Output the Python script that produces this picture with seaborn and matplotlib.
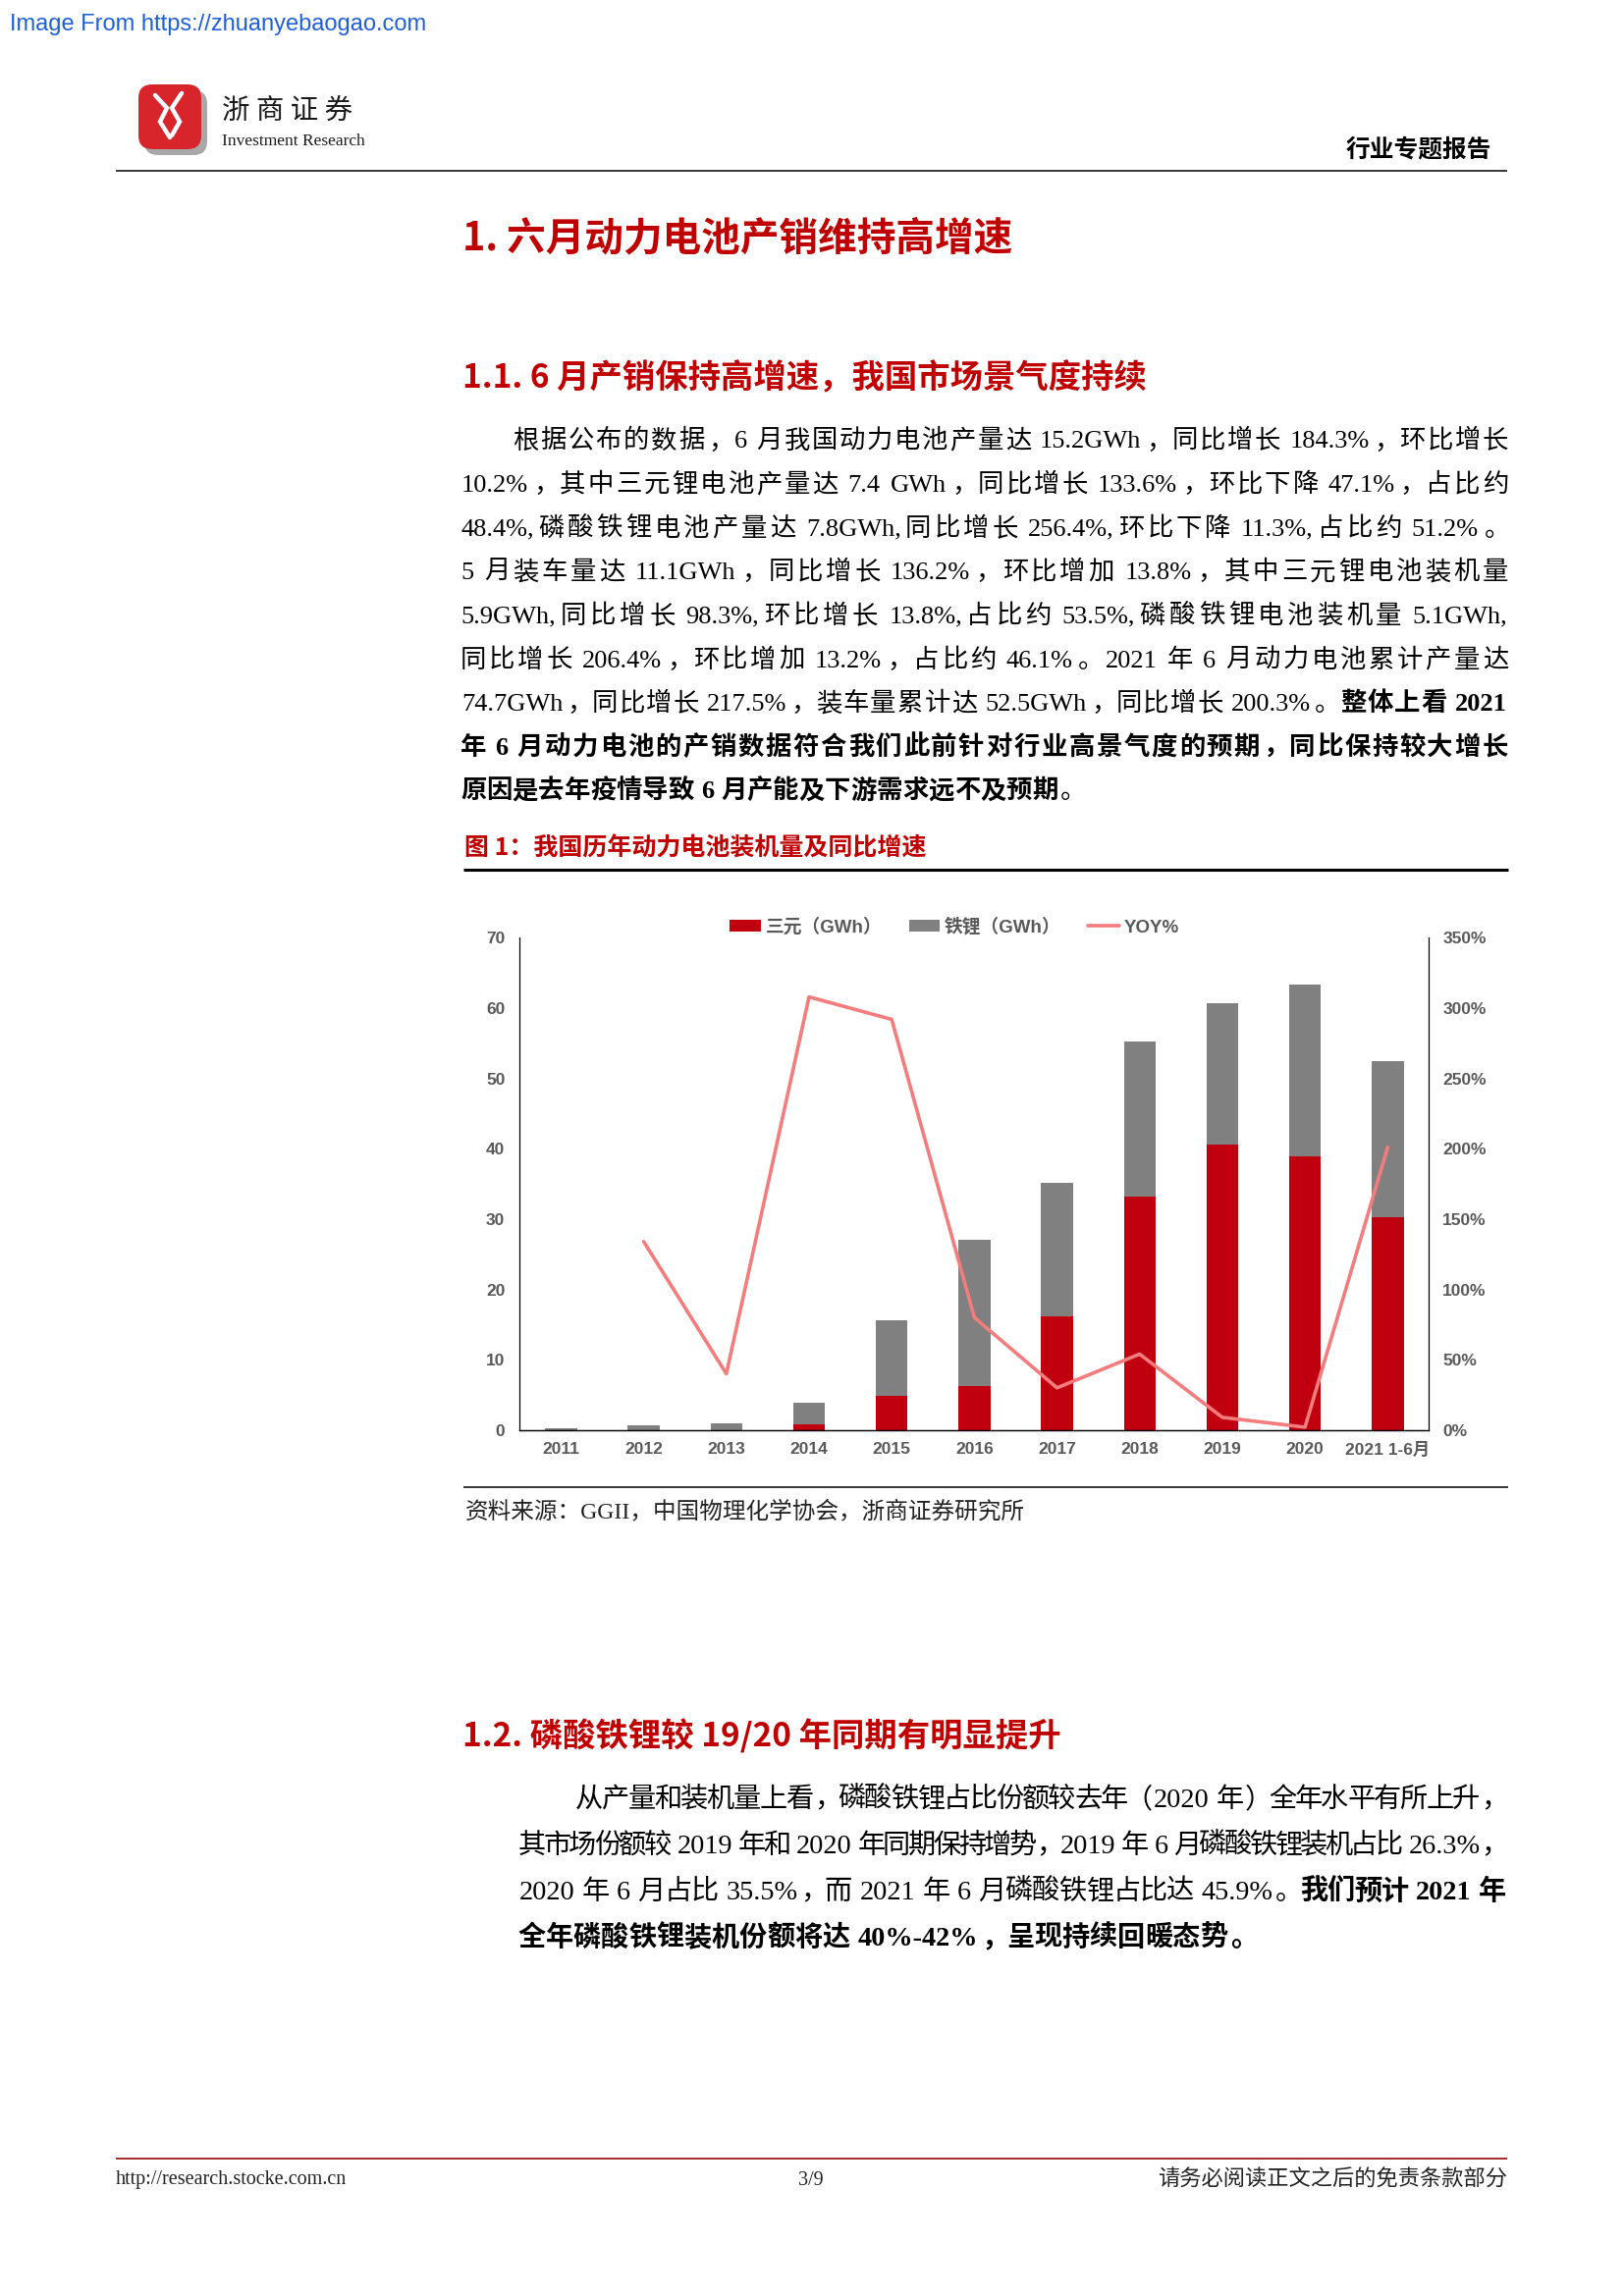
import numpy as np
import pandas as pd
import matplotlib
matplotlib.use("Agg")
import matplotlib.pyplot as plt
import seaborn as sns
from matplotlib.font_manager import FontProperties
from matplotlib.patches import Patch, FancyBboxPatch
from matplotlib.lines import Line2D
from matplotlib.transforms import Affine2D

# ---------------- data ----------------
years = ['2011', '2012', '2013', '2014', '2015', '2016', '2017', '2018', '2019', '2020', '2021 1-6月']
ncm_gwh = [0.0, 0.0, 0.0, 0.8, 4.8, 6.2, 16.2, 33.2, 40.6, 38.9, 30.3]
lfp_gwh = [0.2, 0.7, 1.0, 3.1, 10.8, 20.8, 18.9, 22.1, 20.1, 24.5, 22.1]
yoy_pct = [np.nan, 134, 40, 308, 292, 80, 30, 54, 9, 2, 201]
left_ticks = [0, 10, 20, 30, 40, 50, 60, 70]
right_ticks = [0, 50, 100, 150, 200, 250, 300, 350]
legend_labels = ['三元（GWh）', '铁锂（GWh）', 'YOY%']

# ---------------- style ----------------
sns.set_style("white")
plt.rcParams['font.family'] = ['Liberation Sans', 'Noto Sans CJK SC', 'DejaVu Sans']

W, H = 1654, 2339
fig = plt.figure(figsize=(W / 100, H / 100), dpi=100)
fig.patch.set_facecolor('white')
renderer = fig.canvas.get_renderer()

RED = '#C0000F'
GRAY = '#808080'
LINE = '#F37C7C'
TICK = '#595959'
HEAD_RED = '#C00000'

SERIF = ['Liberation Serif', 'Noto Sans CJK SC']
CJK = ['Noto Sans CJK SC', 'Liberation Sans']
SANS = ['Liberation Sans', 'Noto Sans CJK SC']


def fx(x):
    return x / W


def fy(y):
    return 1 - y / H


def hline(x0, x1, y, lw, color):
    fig.add_artist(Line2D([fx(x0), fx(x1)], [fy(y), fy(y)], transform=fig.transFigure,
                          lw=lw, color=color, solid_capstyle='butt'))


_cache = {}


def ink_width(s, fp):
    key = (s, fp.get_weight(), fp.get_size())
    if key not in _cache:
        t = fig.text(0, 0, s, fontproperties=fp)
        _cache[key] = t.get_window_extent(renderer).width
        t.remove()
    return _cache[key]


def draw_line(segs, x0, x1, yc, size_pt, justify=True, color='black', family=SERIF):
    em = size_pt / 0.72
    toks = []
    sp = False
    for text, bold in segs:
        for ch in text:
            if ch == ' ':
                sp = True
                continue
            asc = ord(ch) < 128
            if asc and toks and toks[-1]['asc'] and toks[-1]['bold'] == bold and not sp:
                toks[-1]['s'] += ch
            else:
                toks.append(dict(s=ch, asc=asc, bold=bold, sp=sp))
            sp = False
    fps = {b: FontProperties(family=family, weight='bold' if b else 'normal', size=size_pt)
           for b in (False, True)}
    for t in toks:
        if t['asc']:
            t['w'] = ink_width(t['s'], fps[t['bold']]) + 0.06 * em
        else:
            t['w'] = em
    spw = 0.25 * em
    base = sum(t['w'] for t in toks) + sum(spw for t in toks[1:] if t['sp'])
    extra = (x1 - x0 - base) / (len(toks) - 1) if justify and len(toks) > 1 else 0.0
    baseline = yc + 0.36 * em
    x = x0
    for i, t in enumerate(toks):
        if i > 0:
            x += extra + (spw if t['sp'] else 0)
        s = t['s']
        fp = fps[t['bold']]
        if t['asc']:
            fig.text(fx(x + 0.03 * em), fy(baseline), s, fontproperties=fp, color=color,
                     ha='left', va='baseline')
        elif s in '，。：；、）':
            fig.text(fx(x + 0.08 * em), fy(baseline), s, fontproperties=fp, color=color,
                     ha='left', va='baseline')
        elif s in '（':
            fig.text(fx(x + 0.92 * em), fy(baseline), s, fontproperties=fp, color=color,
                     ha='right', va='baseline')
        else:
            fig.text(fx(x + em / 2), fy(baseline), s, fontproperties=fp, color=color,
                     ha='center', va='baseline')
        x += t['w']


# ---------------- page header ----------------
fig.text(fx(10), fy(25), 'Image From https://zhuanyebaogao.com', color='#1F5FD6',
         fontsize=17, family=SANS, ha='left', va='center')

px = Affine2D().scale(1 / W, 1 / H) + fig.transFigure
fig.add_artist(FancyBboxPatch((147, H - 158), 64, 66, boxstyle='round,pad=0,rounding_size=14',
                              transform=px, fc='#A8A8A8', ec='none'))
fig.add_artist(FancyBboxPatch((141, H - 152), 64, 66, boxstyle='round,pad=0,rounding_size=14',
                              transform=px, fc='#D8242B', ec='none'))
for xs, ys in [([158, 170, 163, 173], [97, 110, 124, 140]),
               ([185, 175, 183, 175], [95, 110, 124, 138])]:
    fig.add_artist(Line2D(xs, [H - v for v in ys], transform=px, color='white', lw=3.2,
                          solid_joinstyle='miter'))
fig.text(fx(226), fy(113), '浙 商 证 券', family=CJK, fontsize=20.5, color='#1a1a1a',
         ha='left', va='center')
fig.text(fx(226), fy(144), 'Investment Research',
         family=['Liberation Sans Narrow', 'Liberation Serif'], fontsize=12.5,
         color='#1a1a1a', ha='left', va='center')
fig.text(fx(1519), fy(152), '行业专题报告', family=CJK, fontsize=17.8, fontweight='bold',
         color='black', ha='right', va='center')
hline(118, 1535, 173.5, 1.1, 'black')

# ---------------- headings & paragraph 1 ----------------
fig.text(fx(471), fy(240 + 0.36 * 39.6), '1. 六月动力电池产销维持高增速', family=CJK,
         fontsize=28.5, fontweight='bold', color=HEAD_RED, ha='left', va='baseline')
fig.text(fx(471), fy(383 + 0.36 * 33.3), '1.1. 6 月产销保持高增速，我国市场景气度持续', family=CJK,
         fontsize=24, fontweight='bold', color=HEAD_RED, ha='left', va='baseline')

para1 = [
    [('根据公布的数据，6 月我国动力电池产量达 15.2GWh，同比增长 184.3%，环比增长', False)],
    [('10.2%，其中三元锂电池产量达 7.4 GWh，同比增长 133.6%，环比下降 47.1%，占比约', False)],
    [('48.4%,磷酸铁锂电池产量达 7.8GWh,同比增长 256.4%,环比下降 11.3%,占比约 51.2%。', False)],
    [('5 月装车量达 11.1GWh，同比增长 136.2%，环比增加 13.8%，其中三元锂电池装机量', False)],
    [('5.9GWh,同比增长 98.3%,环比增长 13.8%,占比约 53.5%,磷酸铁锂电池装机量 5.1GWh,', False)],
    [('同比增长 206.4%，环比增加 13.2%，占比约 46.1%。2021 年 6 月动力电池累计产量达', False)],
    [('74.7GWh，同比增长 217.5%，装车量累计达 52.5GWh，同比增长 200.3%。', False),
     ('整体上看 2021', True)],
    [('年 6 月动力电池的产销数据符合我们此前针对行业高景气度的预期，同比保持较大增长', True)],
    [('原因是去年疫情导致 6 月产能及下游需求远不及预期', True), ('。', False)],
]
for i, segs in enumerate(para1):
    x0 = 522 if i == 0 else 469
    draw_line(segs, x0, 1536, 447 + 44.6 * i, 19, justify=(i < len(para1) - 1))

# ---------------- figure caption ----------------
fig.text(fx(473), fy(862 + 0.36 * 25), '图 1：我国历年动力电池装机量及同比增速', family=CJK,
         fontsize=18, fontweight='bold', color=HEAD_RED, ha='left', va='baseline')
hline(472, 1536, 886, 2.2, 'black')

# ---------------- chart ----------------
df = pd.DataFrame({'year': years, 'ncm': ncm_gwh, 'lfp': lfp_gwh, 'yoy': yoy_pct})
df['total'] = df['ncm'] + df['lfp']
df['pos'] = np.arange(len(df))

ax = fig.add_axes([fx(529.3), fy(1456.8), (1455.4 - 529.3) / W, (1456.8 - 955.4) / H])
sns.barplot(data=df, x='year', y='total', color=GRAY, width=0.385, saturation=1,
            errorbar=None, linewidth=0, ax=ax)
sns.barplot(data=df, x='year', y='ncm', color=RED, width=0.385, saturation=1,
            errorbar=None, linewidth=0, ax=ax)
ax.set_ylim(0, 70)
ax.set_yticks(left_ticks)
ax.set_yticklabels([str(v) for v in left_ticks])

ax2 = ax.twinx()
line_df = df.dropna(subset=['yoy'])
sns.lineplot(data=line_df, x='pos', y='yoy', color=LINE, lw=2.6, estimator=None,
             sort=False, ax=ax2, legend=False)
ax2.set_ylim(0, 350)
ax2.set_yticks(right_ticks)
ax2.set_yticklabels([f'{v}%' for v in right_ticks])
ax.set_xlim(-0.5, len(years) - 0.5)

for a in (ax, ax2):
    a.set_xlabel('')
    a.set_ylabel('')
    a.grid(False)
    a.set_facecolor('none')
    for s in a.spines.values():
        s.set_color('black')
        s.set_linewidth(0.9)
    a.spines['top'].set_visible(False)
ax2.spines['left'].set_visible(False)
ax.spines['right'].set_visible(False)

tick_fp = FontProperties(family=SANS, weight='bold', size=12.5)
ax.tick_params(axis='x', length=0, pad=8.5)
ax.tick_params(axis='y', length=0, pad=10.8)
ax2.tick_params(axis='y', length=0, pad=10)
for lab in ax.get_xticklabels() + ax.get_yticklabels() + ax2.get_yticklabels():
    lab.set_fontproperties(tick_fp)
    lab.set_color(TICK)

handles = [Patch(fc=RED, ec='none'), Patch(fc=GRAY, ec='none'), Line2D([], [], color=LINE, lw=2.6)]
fig.legend(handles, legend_labels, loc='center', bbox_to_anchor=(fx(972), fy(944.5)), ncol=3,
           frameon=False, prop=FontProperties(family=SANS, weight='bold', size=13.5),
           labelcolor=TICK, handlelength=1.7, handleheight=0.6, handletextpad=0.25,
           columnspacing=1.45, borderpad=0, borderaxespad=0)

hline(472, 1536, 1515, 1.1, 'black')
fig.text(fx(474), fy(1540), '资料来源：GGII，中国物理化学协会，浙商证券研究所', family=SERIF,
         fontsize=17, color='#222222', ha='left', va='center')

# ---------------- section 1.2 ----------------
fig.text(fx(471), fy(1768 + 0.36 * 33.3), '1.2. 磷酸铁锂较 19/20 年同期有明显提升', family=CJK,
         fontsize=24, fontweight='bold', color=HEAD_RED, ha='left', va='baseline')
para2 = [
    [('从产量和装机量上看，磷酸铁锂占比份额较去年（2020 年）全年水平有所上升，', False)],
    [('其市场份额较 2019 年和 2020 年同期保持增势，2019 年 6 月磷酸铁锂装机占比 26.3%，', False)],
    [('2020 年 6 月占比 35.5%，而 2021 年 6 月磷酸铁锂占比达 45.9%。', False),
     ('我们预计 2021 年', True)],
    [('全年磷酸铁锂装机份额将达 40%-42%，呈现持续回暖态势。', True)],
]
for i, segs in enumerate(para2):
    x0 = 586 if i == 0 else 527.5
    draw_line(segs, x0, 1534, 1830.7 + 47.0 * i, 20.3, justify=(i < len(para2) - 1))

# ---------------- footer ----------------
hline(118, 1535, 2199, 1.3, '#9B1B1B')
fig.text(fx(118), fy(2221), 'http://research.stocke.com.cn', family=SERIF, fontsize=14.5,
         color='#222222', ha='left', va='center')
fig.text(fx(826), fy(2221), '3/9', family=SERIF, fontsize=14.5, color='#222222',
         ha='center', va='center')
fig.text(fx(1535), fy(2221), '请务必阅读正文之后的免责条款部分', family=SERIF, fontsize=16,
         color='#222222', ha='right', va='center')

fig.savefig('out.png', dpi=100, facecolor='white')
